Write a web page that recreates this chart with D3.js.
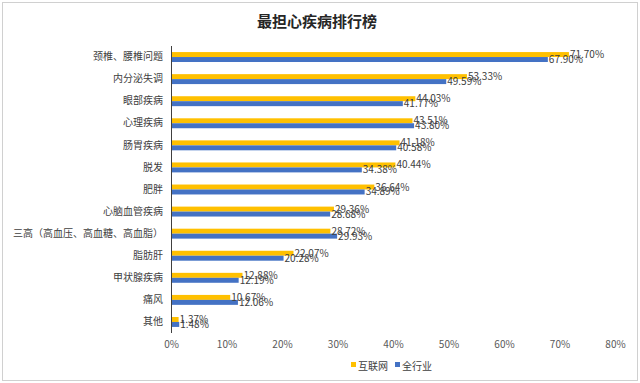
<!DOCTYPE html>
<html>
<head>
<meta charset="utf-8">
<script src="https://cdn.jsdelivr.net/npm/d3@7"></script>
<style>
  html, body { margin: 0; padding: 0; background: #fff; }
  svg { display: block; }
  text { font-family: "Noto Sans CJK SC", "Noto Sans", sans-serif; }
</style>
</head>
<body>
<script>
const title = "最担心疾病排行榜";
const categories = ["颈椎、腰椎问题", "内分泌失调", "眼部疾病", "心理疾病", "肠胃疾病", "脱发", "肥胖", "心脑血管疾病", "三高（高血压、高血糖、高血脂）", "脂肪肝", "甲状腺疾病", "痛风", "其他"];
const seriesNames = ["互联网", "全行业"];
const internetValues = [71.70, 53.33, 44.03, 43.51, 41.18, 40.44, 36.64, 29.36, 28.72, 22.07, 12.88, 10.67, 1.37];
const industryValues = [67.90, 49.59, 41.77, 43.80, 40.58, 34.38, 34.89, 28.68, 29.93, 20.28, 12.19, 12.06, 1.48];
const xTicks = [0, 10, 20, 30, 40, 50, 60, 70, 80];
const colors = ["#FFC000", "#4472C4"];

const W = 640, H = 383;
const svg = d3.select("body").append("svg").attr("width", W).attr("height", H);

// border
svg.append("rect").attr("x", 2.5).attr("y", 2.5).attr("width", W - 5).attr("height", H - 5)
  .attr("fill", "#fff").attr("stroke", "#D0D0D0").attr("stroke-width", 1);

// title
svg.append("text").attr("x", 317).attr("y", 22).attr("dy", "0.35em")
  .attr("text-anchor", "middle").attr("font-size", 15).attr("font-weight", "bold")
  .attr("fill", "#262626").text(title);

const x = d3.scaleLinear().domain([0, 80]).range([171, 615]);
const y = d3.scaleBand().domain(categories).range([46, 333]).paddingInner(0.55).paddingOuter(0.275);
const ySub = d3.scaleBand().domain(seriesNames).range([0, y.bandwidth()]);

const rows = categories.map((c, i) => ({ cat: c, vals: [internetValues[i], industryValues[i]] }));

const g = svg.append("g");
const grp = g.selectAll("g.row").data(rows).join("g").attr("class", "row")
  .attr("transform", d => `translate(0,${y(d.cat)})`);

grp.selectAll("rect").data(d => d.vals.map((v, k) => ({ v, k })))
  .join("rect")
  .attr("x", x(0))
  .attr("y", d => ySub(seriesNames[d.k]))
  .attr("width", d => x(d.v) - x(0))
  .attr("height", ySub.bandwidth())
  .attr("fill", d => colors[d.k]);

grp.selectAll("text.val").data(d => d.vals.map((v, k) => ({ v, k })))
  .join("text").attr("class", "val")
  .attr("x", d => x(d.v) + 1)
  .attr("y", d => ySub(seriesNames[d.k]) + ySub.bandwidth() / 2)
  .attr("dy", "0.35em")
  .attr("font-size", 10).attr("fill", "#404040")
  .text(d => d.v.toFixed(2) + "%");

// y axis (category labels)
const yAxis = d3.axisLeft(y).tickSize(0).tickPadding(8);
const ya = svg.append("g").attr("transform", `translate(${x(0)},0)`).call(yAxis);
ya.select(".domain").attr("stroke", "#404040").attr("d", `M0.5,46V333`);
ya.selectAll("text").attr("font-size", 10).attr("fill", "#404040")
  .attr("font-family", "'Noto Sans CJK SC', sans-serif");

// x axis
const xAxis = d3.axisBottom(x).tickValues(xTicks).tickSize(0).tickPadding(0).tickFormat(d => d + "%");
const xa = svg.append("g").attr("transform", `translate(0,341)`).call(xAxis);
xa.select(".domain").remove();
xa.selectAll("text").attr("font-size", 10).attr("fill", "#595959")
  .attr("font-family", "'Noto Sans CJK SC', sans-serif");

// legend
const legend = svg.append("g");
const legendX = [351, 395];
seriesNames.forEach((s, i) => {
  legend.append("rect").attr("x", legendX[i]).attr("y", 362).attr("width", 5).attr("height", 5).attr("fill", colors[i]);
  legend.append("text").attr("x", legendX[i] + 7).attr("y", 366).attr("dy", "0.35em")
    .attr("font-size", 10).attr("fill", "#404040").text(s);
});
</script>
</body>
</html>
